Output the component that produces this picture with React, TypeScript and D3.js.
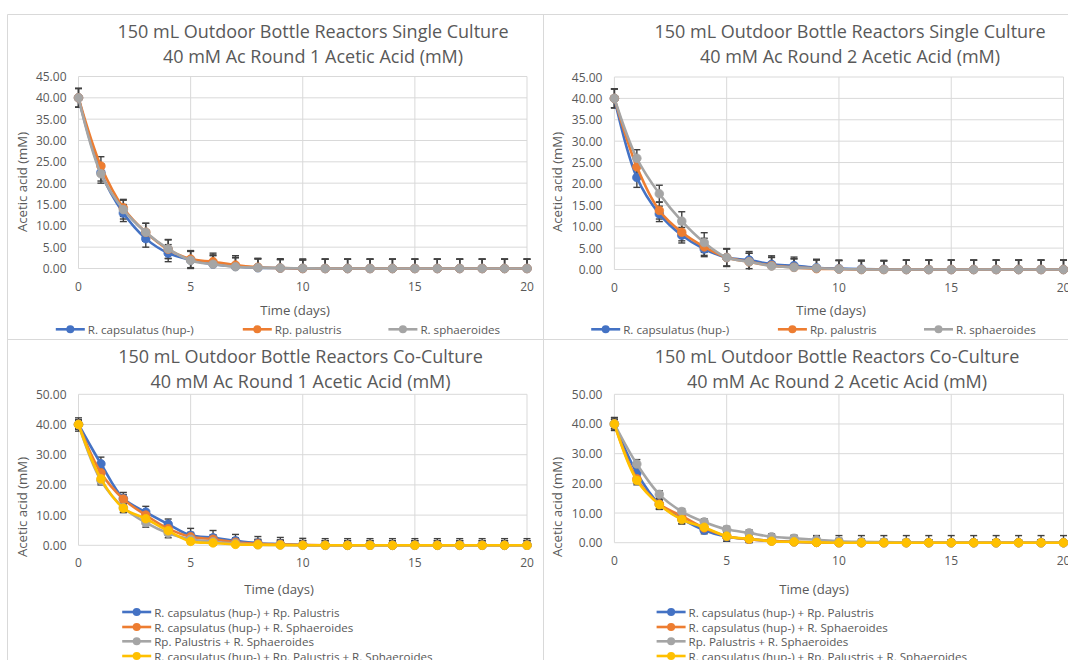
import React from "react";
import * as d3 from "d3";

// ---------- DATA ----------
const days = [0, 1, 2, 3, 4, 5, 6, 7, 8, 9, 10, 11, 12, 13, 14, 15, 16, 17, 18, 19, 20];
const xTicks = [0, 5, 10, 15, 20];

const singleNames = ["R. capsulatus (hup-)", "Rp. palustris", "R. sphaeroides"];
const coNames = [
  "R. capsulatus (hup-) + Rp. Palustris",
  "R. capsulatus (hup-) + R. Sphaeroides",
  "Rp. Palustris + R. Sphaeroides",
  "R. capsulatus (hup-) + Rp. Palustris + R. Sphaeroides",
];

// Single culture, round 1
const s1Cap = [40, 22.5, 13, 7, 3.6, 2, 1, 0.5, 0.2, 0.1, 0, 0, 0, 0, 0, 0, 0, 0, 0, 0, 0];
const s1Pal = [40, 24, 14.2, 8.5, 4.5, 2.2, 1.6, 0.8, 0.3, 0.1, 0, 0, 0, 0, 0, 0, 0, 0, 0, 0, 0];
const s1Sph = [40, 22.2, 13.8, 8.5, 4.6, 1.9, 1.0, 0.4, 0.2, 0.1, 0.05, 0, 0, 0, 0, 0, 0, 0, 0, 0, 0];
const s1CapErr = [2.2, 2.0, 2.0, 2.0, 2.0, 2.0, 2.0, 2.0, 2.0, 2.0, 2.0, 2.2, 2.2, 2.2, 2.2, 2.2, 2.2, 2.2, 2.2, 2.2, 2.2];
const s1PalErr = [2.2, 2.2, 2.0, 2.1, 2.2, 2.0, 2.0, 2.2, 2.0, 2.0, 2.0, 2.2, 2.2, 2.2, 2.2, 2.2, 2.2, 2.2, 2.2, 2.2, 2.2];
const s1SphErr = [2.2, 2.2, 2.2, 2.1, 2.2, 2.2, 2.2, 2.2, 2.2, 2.2, 2.2, 2.2, 2.2, 2.2, 2.2, 2.2, 2.2, 2.2, 2.2, 2.2, 2.2];

// Single culture, round 2
const s2Cap = [40, 21.5, 13, 8, 4.8, 2.8, 2.2, 1.2, 0.9, 0.4, 0.2, 0.1, 0.05, 0, 0, 0, 0, 0, 0, 0, 0];
const s2Pal = [40, 24, 13.8, 8.7, 5.3, 2.8, 1.8, 0.9, 0.5, 0.2, 0.1, 0, 0, 0, 0, 0, 0, 0, 0, 0, 0];
const s2Sph = [40, 26, 17.7, 11.3, 6.3, 2.8, 1.8, 0.8, 0.5, 0.3, 0.1, 0, 0, 0, 0, 0, 0, 0, 0, 0, 0];
const s2CapErr = [2.2, 2.3, 1.8, 1.8, 1.8, 2.1, 2.0, 2.0, 2.0, 2.0, 2.0, 2.1, 2.1, 2.2, 2.2, 2.2, 2.2, 2.2, 2.2, 2.2, 2.2];
const s2PalErr = [2.2, 2.0, 2.0, 2.0, 2.0, 2.0, 2.0, 2.0, 2.0, 2.0, 2.0, 2.0, 2.0, 2.2, 2.2, 2.2, 2.2, 2.2, 2.2, 2.2, 2.2];
const s2SphErr = [2.2, 2.0, 2.0, 2.2, 2.3, 2.0, 2.0, 2.0, 2.0, 2.0, 2.0, 2.0, 2.0, 2.2, 2.2, 2.2, 2.2, 2.2, 2.2, 2.2, 2.2];

// Co-culture, round 1
const c1CapPal = [40, 27, 15.5, 11, 7, 3.3, 2.5, 1.5, 0.7, 0.4, 0.1, 0, 0, 0, 0, 0, 0, 0, 0, 0, 0];
const c1CapSph = [40, 24, 15.3, 10, 5.5, 2.8, 2, 1, 0.5, 0.3, 0.1, 0, 0, 0, 0, 0, 0, 0, 0, 0, 0];
const c1PalSph = [40, 21.5, 12.5, 7.5, 4, 2, 1.2, 0.6, 0.2, 0.1, 0, 0, 0, 0, 0, 0, 0, 0, 0, 0, 0];
const c1All = [40, 22, 12.3, 8.8, 4.8, 1.3, 0.8, 0.3, 0.2, 0.1, 0, 0, 0, 0, 0, 0, 0, 0, 0, 0, 0];
const c1CapPalErr = [2.2, 2.2, 2.0, 1.9, 1.7, 2.3, 2.4, 2.1, 2.2, 2.2, 2.2, 2.2, 2.2, 2.2, 2.2, 2.2, 2.2, 2.2, 2.2, 2.2, 2.2];
const c1CapSphErr = [1.5, 1.5, 1.5, 1.5, 1.5, 1.5, 1.5, 1.5, 1.5, 1.5, 1.5, 1.5, 1.5, 1.5, 1.5, 1.5, 1.5, 1.5, 1.5, 1.5, 1.5];
const c1PalSphErr = [1.5, 1.5, 1.5, 1.5, 1.5, 1.5, 1.5, 1.5, 1.5, 1.5, 1.5, 1.5, 1.5, 1.5, 1.5, 1.5, 1.5, 1.5, 1.5, 1.5, 1.5];
const c1AllErr = [1.5, 1.5, 1.5, 1.5, 1.5, 1.5, 1.5, 1.5, 1.5, 1.5, 1.5, 1.5, 1.5, 1.5, 1.5, 1.5, 1.5, 1.5, 1.5, 1.5, 1.5];

// Co-culture, round 2
const c2CapPal = [40, 23.5, 13, 8, 4.2, 2, 1.2, 0.6, 0.3, 0.1, 0, 0, 0, 0, 0, 0, 0, 0, 0, 0, 0];
const c2CapSph = [40, 21.5, 13, 9, 5, 2.2, 1.2, 0.6, 0.3, 0.1, 0, 0, 0, 0, 0, 0, 0, 0, 0, 0, 0];
const c2PalSph = [40, 26.5, 16.3, 10.5, 7, 4.5, 3.3, 2, 1.5, 1, 0.5, 0.3, 0.2, 0.1, 0, 0, 0, 0, 0, 0, 0];
const c2All = [40, 21, 12.8, 7.8, 5.2, 2.2, 1.3, 0.5, 0.3, 0.1, 0, 0, 0, 0, 0, 0, 0, 0, 0, 0, 0];
const c2CapPalErr = [2.2, 1.5, 1.8, 1.6, 1.2, 1.5, 1.2, 1.0, 1.0, 1.0, 1.0, 1.0, 1.0, 1.0, 1.0, 1.0, 1.0, 1.0, 1.0, 1.0, 1.0];
const c2CapSphErr = [1.5, 1.5, 1.5, 1.2, 1.0, 1.0, 1.0, 1.0, 1.0, 1.0, 1.0, 1.0, 1.0, 1.0, 1.0, 1.0, 1.0, 1.0, 1.0, 1.0, 1.0];
const c2PalSphErr = [1.5, 1.5, 1.2, 1.0, 1.0, 1.0, 1.0, 1.0, 1.0, 1.0, 1.0, 1.0, 1.0, 1.0, 1.0, 1.0, 1.0, 1.0, 1.0, 1.0, 1.0];
const c2AllErr = [2.0, 1.5, 1.5, 1.5, 1.5, 1.7, 1.5, 1.8, 2.1, 2.3, 2.4, 2.4, 2.4, 2.4, 2.4, 2.4, 2.4, 2.4, 2.4, 2.4, 2.4];

const seriesColors = ["#4472C4", "#ED7D31", "#A5A5A5", "#FFC000"];

const titlesTL = ["150 mL Outdoor Bottle Reactors Single Culture", "40 mM Ac Round 1 Acetic Acid (mM)"];
const titlesTR = ["150 mL Outdoor Bottle Reactors Single Culture", "40 mM Ac Round 2 Acetic Acid (mM)"];
const titlesBL = ["150 mL Outdoor Bottle Reactors Co-Culture", "40 mM Ac Round 1 Acetic Acid (mM)"];
const titlesBR = ["150 mL Outdoor Bottle Reactors Co-Culture", "40 mM Ac Round 2 Acetic Acid (mM)"];
const xAxisTitle = "Time (days)";
const yAxisTitle = "Acetic acid (mM)";

// ---------- LAYOUT ----------
type Series = { name: string; values: number[]; errs: number[]; color: string };

type PanelCfg = {
  titles: string[];
  titleX: number;
  titleY: number[];
  plotX: [number, number];
  plotY: [number, number]; // [bottom(0), top(max)]
  yMax: number;
  yStep: number;
  xTitlePos: [number, number];
  yTitlePos: [number, number];
  xTickY: number;
  legend: { type: "row"; y: number; xs: number[] } | { type: "col"; x: number; ys: number[] };
  series: Series[];
};

const mk = (names: string[], vals: number[][], errs: number[][]): Series[] =>
  names.map((n, i) => ({ name: n, values: vals[i], errs: errs[i], color: seriesColors[i] }));

const panels: PanelCfg[] = [
  {
    titles: titlesTL,
    titleX: 313,
    titleY: [31, 55.5],
    plotX: [78.5, 527],
    plotY: [268.5, 76.5],
    yMax: 45,
    yStep: 5,
    xTitlePos: [295, 310],
    yTitlePos: [21.5, 182],
    xTickY: 286,
    legend: { type: "row", y: 329.3, xs: [55.8, 242.8, 388.4] },
    series: mk(singleNames, [s1Cap, s1Pal, s1Sph], [s1CapErr, s1PalErr, s1SphErr]),
  },
  {
    titles: titlesTR,
    titleX: 850,
    titleY: [31, 55.5],
    plotX: [614.4, 1063.5],
    plotY: [269.5, 77],
    yMax: 45,
    yStep: 5,
    xTitlePos: [831, 309.5],
    yTitlePos: [557, 182],
    xTickY: 287,
    legend: { type: "row", y: 329.3, xs: [591.2, 777.9, 924] },
    series: mk(singleNames, [s2Cap, s2Pal, s2Sph], [s2CapErr, s2PalErr, s2SphErr]),
  },
  {
    titles: titlesBL,
    titleX: 300.5,
    titleY: [356, 381],
    plotX: [78.5, 527],
    plotY: [545.3, 394.3],
    yMax: 50,
    yStep: 10,
    xTitlePos: [279, 589.3],
    yTitlePos: [21.5, 507],
    xTickY: 562.7,
    legend: { type: "col", x: 122.2, ys: [612, 627, 641.3, 656] },
    series: mk(coNames, [c1CapPal, c1CapSph, c1PalSph, c1All], [c1CapPalErr, c1CapSphErr, c1PalSphErr, c1AllErr]),
  },
  {
    titles: titlesBR,
    titleX: 837,
    titleY: [356, 381],
    plotX: [614.4, 1063.5],
    plotY: [542.7, 394.3],
    yMax: 50,
    yStep: 10,
    xTitlePos: [814, 589.3],
    yTitlePos: [557, 507],
    xTickY: 560.5,
    legend: { type: "col", x: 656.6, ys: [612, 627, 641.3, 656] },
    series: mk(coNames, [c2CapPal, c2CapSph, c2PalSph, c2All], [c2CapPalErr, c2CapSphErr, c2PalSphErr, c2AllErr]),
  },
];

const FONT = "'Open Sans', 'Noto Sans', sans-serif";
const TEXT = "#595959";
const GRID = "#d9d9d9";
const ERR = "#404040";

function Panel({ cfg }: { cfg: PanelCfg }) {
  const x = d3.scaleLinear().domain([0, 20]).range(cfg.plotX);
  const y = d3.scaleLinear().domain([0, cfg.yMax]).range(cfg.plotY);
  const yTicks = d3.range(0, cfg.yMax + 0.001, cfg.yStep);
  const line = d3
    .line<number>()
    .x((_, i) => x(days[i]))
    .y((d) => y(d))
    .curve(d3.curveCatmullRom.alpha(0.5));
  const clampY = (v: number) => y(Math.max(0, Math.min(cfg.yMax, v)));
  const capW = 3.5;

  return (
    <g>
      {/* gridlines */}
      {yTicks.map((t) => (
        <line key={"h" + t} x1={cfg.plotX[0]} x2={cfg.plotX[1]} y1={y(t)} y2={y(t)} stroke={GRID} strokeWidth={1} />
      ))}
      {xTicks.map((t) => (
        <line key={"v" + t} x1={x(t)} x2={x(t)} y1={y(0)} y2={y(cfg.yMax)} stroke={GRID} strokeWidth={1} />
      ))}
      {/* y tick labels */}
      {yTicks.map((t) => (
        <text
          key={"yl" + t}
          x={cfg.plotX[0] - 12}
          y={y(t)}
          textAnchor="end"
          dominantBaseline="central"
          fontFamily={FONT}
          fontSize={12}
          fill={TEXT}
        >
          {d3.format(".2f")(t)}
        </text>
      ))}
      {/* x tick labels */}
      {xTicks.map((t) => (
        <text
          key={"xl" + t}
          x={x(t)}
          y={cfg.xTickY}
          textAnchor="middle"
          dominantBaseline="central"
          fontFamily={FONT}
          fontSize={12}
          fill={TEXT}
        >
          {t}
        </text>
      ))}
      {/* error bars */}
      {cfg.series.map((s, si) => (
        <g key={"e" + si} stroke={ERR} strokeWidth={1.4}>
          {s.values.map((v, i) => {
            const cx = x(days[i]);
            const hi = v + s.errs[i];
            const lo = v - s.errs[i];
            const yHi = clampY(hi);
            const yLo = clampY(lo);
            return (
              <g key={i}>
                <line x1={cx} x2={cx} y1={yHi} y2={yLo} />
                {hi <= cfg.yMax && <line x1={cx - capW} x2={cx + capW} y1={yHi} y2={yHi} />}
                {lo >= 0 && <line x1={cx - capW} x2={cx + capW} y1={yLo} y2={yLo} />}
              </g>
            );
          })}
        </g>
      ))}
      {/* series */}
      {cfg.series.map((s, si) => (
        <g key={"s" + si}>
          <path d={line(s.values) || ""} fill="none" stroke={s.color} strokeWidth={2.6} strokeLinejoin="round" strokeLinecap="round" />
          {s.values.map((v, i) => (
            <circle key={i} cx={x(days[i])} cy={y(v)} r={4.3} fill={s.color} stroke={s.color} strokeWidth={0.8} />
          ))}
        </g>
      ))}
      {/* titles */}
      {cfg.titles.map((t, i) => (
        <text
          key={"t" + i}
          x={cfg.titleX}
          y={cfg.titleY[i]}
          textAnchor="middle"
          dominantBaseline="central"
          fontFamily={FONT}
          fontSize={18}
          fill={TEXT}
        >
          {t}
        </text>
      ))}
      <text
        x={cfg.xTitlePos[0]}
        y={cfg.xTitlePos[1]}
        textAnchor="middle"
        dominantBaseline="central"
        fontFamily={FONT}
        fontSize={13.2}
        fill={TEXT}
      >
        {xAxisTitle}
      </text>
      <text
        transform={`translate(${cfg.yTitlePos[0]},${cfg.yTitlePos[1]}) rotate(-90)`}
        textAnchor="middle"
        dominantBaseline="central"
        fontFamily={FONT}
        fontSize={13.2}
        fill={TEXT}
      >
        {yAxisTitle}
      </text>
      {/* legend */}
      {cfg.series.map((s, si) => {
        const lx = cfg.legend.type === "row" ? cfg.legend.xs[si] : cfg.legend.x;
        const ly = cfg.legend.type === "row" ? cfg.legend.y : cfg.legend.ys[si];
        return (
          <g key={"l" + si}>
            <line x1={lx} x2={lx + 29} y1={ly} y2={ly} stroke={s.color} strokeWidth={2.6} />
            <circle cx={lx + 14.5} cy={ly} r={4} fill={s.color} />
            <text
              x={lx + 32}
              y={ly}
              dominantBaseline="central"
              fontFamily={FONT}
              fontSize={11.6}
              fill={TEXT}
            >
              {s.name}
            </text>
          </g>
        );
      })}
    </g>
  );
}

export default function App() {
  return (
    <svg
      width={1068}
      height={660}
      style={{ position: "absolute", left: 0, top: 0, background: "#fff" }}
      xmlns="http://www.w3.org/2000/svg"
    >
      <rect x={0} y={0} width={1068} height={660} fill="#fff" />
      {/* chart borders */}
      <line x1={7.5} x2={1068} y1={14.5} y2={14.5} stroke={GRID} />
      <line x1={7.5} x2={1068} y1={339.5} y2={339.5} stroke={GRID} />
      <line x1={7.5} x2={7.5} y1={14.5} y2={660} stroke={GRID} />
      <line x1={543.5} x2={543.5} y1={14.5} y2={660} stroke={GRID} />
      {panels.map((p, i) => (
        <Panel key={i} cfg={p} />
      ))}
    </svg>
  );
}
